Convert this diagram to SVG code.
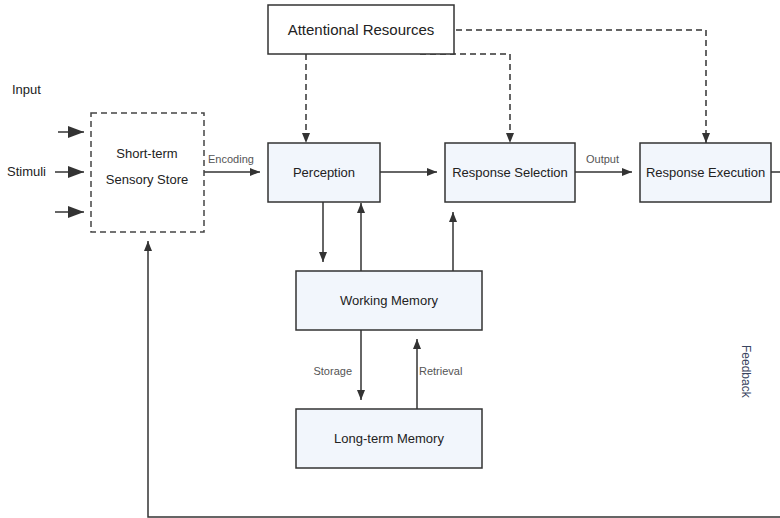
<svg xmlns="http://www.w3.org/2000/svg" width="780" height="518" viewBox="0 0 780 518">
<style>
.node{fill:#f2f6fc;stroke:#333;stroke-width:1.5}
.plain{fill:#fff;stroke:#333;stroke-width:1.5}
.dbox{fill:#fff;stroke:#444;stroke-width:1.5;stroke-dasharray:6 4}
.t{font-family:"Liberation Sans",Arial,sans-serif;font-size:13px;fill:#222;text-anchor:middle}
.ts{font-family:"Liberation Sans",Arial,sans-serif;font-size:13px;fill:#222;text-anchor:start}
.lbl{font-family:"Liberation Sans",Arial,sans-serif;font-size:11px;fill:#555}
.c{fill:none;stroke:#333;stroke-width:1.5}
.d{fill:none;stroke:#333;stroke-width:1.5;stroke-dasharray:6 4}
</style>
<defs>
<marker id="ah" markerWidth="10" markerHeight="8" refX="10" refY="4" orient="auto" markerUnits="userSpaceOnUse">
<path d="M0,0 L10,4 L0,8 Z" fill="#333"/>
</marker>
<marker id="ahb" markerWidth="16" markerHeight="12" refX="16" refY="6" orient="auto" markerUnits="userSpaceOnUse">
<path d="M0,0 L16,6 L0,12 Z" fill="#333"/>
</marker>
</defs>
<rect width="780" height="518" fill="#fff"/>
<g id="connectors">
<line class="c" x1="58" y1="132" x2="84" y2="132" stroke-width="2" marker-end="url(#ahb)"/>
<line class="c" x1="55" y1="172" x2="84" y2="172" stroke-width="2" marker-end="url(#ahb)"/>
<line class="c" x1="55" y1="212" x2="84" y2="212" stroke-width="2" marker-end="url(#ahb)"/>
<line class="c" x1="204" y1="172" x2="260" y2="172" marker-end="url(#ah)"/>
<line class="c" x1="380" y1="172" x2="437" y2="172" marker-end="url(#ah)"/>
<line class="c" x1="575" y1="172" x2="632" y2="172" marker-end="url(#ah)"/>
<line class="c" x1="323" y1="202" x2="323" y2="262" marker-end="url(#ah)"/>
<line class="c" x1="361" y1="271" x2="361" y2="203" marker-end="url(#ah)"/>
<line class="c" x1="453" y1="271" x2="453" y2="212" marker-end="url(#ah)"/>
<line class="c" x1="361" y1="330" x2="361" y2="400" marker-end="url(#ah)"/>
<line class="c" x1="417" y1="409" x2="417" y2="339" marker-end="url(#ah)"/>
<path class="d" d="M306,54 L306,143" marker-end="url(#ah)"/>
<path class="d" d="M420,54 L510,54 L510,143" marker-end="url(#ah)"/>
<path class="d" d="M436,30 L706,30 L706,143" marker-end="url(#ah)"/>
<path class="c" d="M771,172 L782,172 M782,517 L148,517 L148,241" marker-end="url(#ah)"/>
<text class="lbl" x="208" y="163">Encoding</text>
<text class="lbl" x="586" y="163">Output</text>
<text class="lbl" x="352" y="375" style="text-anchor:end">Storage</text>
<text class="lbl" x="419" y="375">Retrieval</text>
<text class="lbl" x="0" y="0" transform="translate(742,345) rotate(90)" style="font-size:12px;fill:#3a4560">Feedback</text>
</g>
<g id="input">
<text class="ts" x="12" y="94">Input</text>
<text class="ts" x="7" y="176">Stimuli</text>
</g>
<g id="sensory">
<rect class="dbox" x="91" y="113" width="113" height="119"/>
<text class="t" x="147" y="158">Short-term</text>
<text class="t" x="147" y="184">Sensory Store</text>
</g>
<g id="attention">
<rect class="plain" x="268" y="5" width="186" height="49"/>
<text class="t" x="361" y="35" style="font-size:15px">Attentional Resources</text>
</g>
<g id="perception">
<rect class="node" x="268" y="143" width="112" height="59"/>
<text class="t" x="324" y="177">Perception</text>
</g>
<g id="selection">
<rect class="node" x="445" y="143" width="130" height="59"/>
<text class="t" x="510" y="177">Response Selection</text>
</g>
<g id="execution">
<rect class="node" x="640" y="143" width="131" height="59"/>
<text class="t" x="705.5" y="177">Response Execution</text>
</g>
<g id="working">
<rect class="node" x="296" y="271" width="186" height="59"/>
<text class="t" x="389" y="305">Working Memory</text>
</g>
<g id="longterm">
<rect class="node" x="296" y="409" width="186" height="59"/>
<text class="t" x="389" y="443">Long-term Memory</text>
</g>
</svg>
